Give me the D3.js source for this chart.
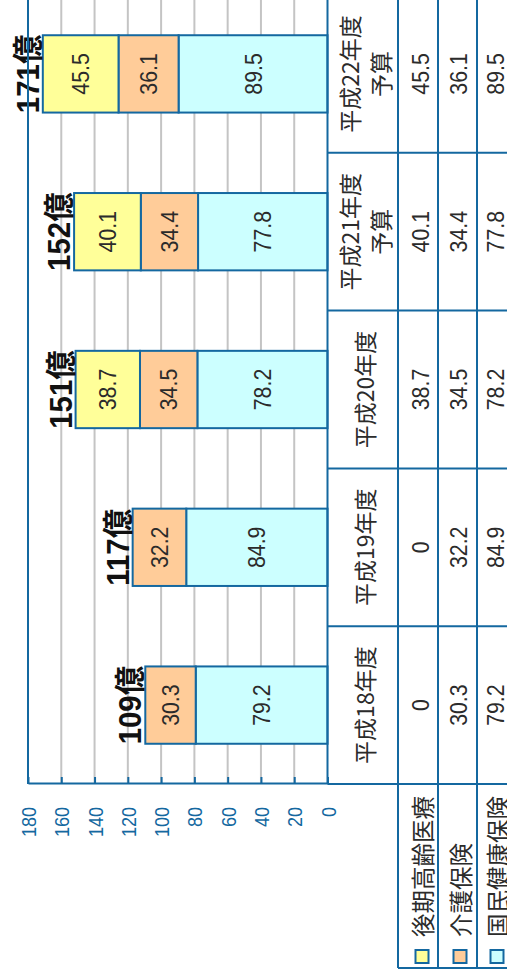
<!DOCTYPE html>
<html>
<head>
<meta charset="utf-8">
<script src="https://cdn.jsdelivr.net/npm/d3@7"></script>
<style>
    body { margin: 0; background: #fff; }
    svg { display: block; }
</style>
</head>
<body>
<div id="chart"></div>
<script>
// --- data ---
const categories = ['平成18年度', '平成19年度', '平成20年度', '平成21年度予算', '平成22年度予算'];
const categoryLines = [['平成18年度'], ['平成19年度'], ['平成20年度'], ['平成21年度', '予算'], ['平成22年度', '予算']];
const stackKeys = ['国民健康保険', '介護保険', '後期高齢医療']; // bottom to top
const tableRows = ['後期高齢医療', '介護保険', '国民健康保険'];
const kokiKorei = [0, 0, 38.7, 40.1, 45.5];
const kaigo = [30.3, 32.2, 34.5, 34.4, 36.1];
const kokuho = [79.2, 84.9, 78.2, 77.8, 89.5];
const valueTicks = [0, 20, 40, 60, 80, 100, 120, 140, 160, 180];
const unit = '億';

const values = { '後期高齢医療': kokiKorei, '介護保険': kaigo, '国民健康保険': kokuho };
const colors = { '後期高齢医療': '#ffff99', '介護保険': '#ffcc99', '国民健康保険': '#ccffff' };

// chart is drawn unrotated (W x H) and turned -90deg into the page
const W = 979, H = 507;
const blue = '#1468a0';
const grid = '#c4c4c4';
const ink = '#2b2b2b';
const latin = '"Liberation Sans", Arial, "Noto Sans CJK JP", sans-serif';
const cjk = '"Noto Sans CJK JP", "Noto Sans CJK SC", sans-serif';
const numSize = 24.5, numScale = 0.87;

const svg = d3.select('#chart').append('svg')
    .attr('width', H)
    .attr('height', W);

const g = svg.append('g')
    .attr('transform', `translate(0,${W}) rotate(-90)`);

const x = d3.scaleBand().domain(categories).range([195, 984]);
const y = d3.scaleLinear().domain([0, 180]).range([327.5, 28]);

// gridlines
g.append('g')
    .selectAll('line')
    .data(valueTicks.filter(t => t > 0 && t < 180))
    .enter().append('line')
    .attr('x1', 195).attr('x2', 984)
    .attr('y1', d => y(d)).attr('y2', d => y(d))
    .attr('stroke', grid)
    .attr('stroke-width', 2);

// bars
const rows = categories.map((c, i) => {
    const r = { cat: c };
    stackKeys.forEach(k => { r[k] = values[k][i]; });
    return r;
});
const stacked = d3.stack().keys(stackKeys)(rows);
const barW = x.bandwidth() * 0.49;

const layer = g.append('g')
    .selectAll('g')
    .data(stacked)
    .enter().append('g')
    .attr('fill', d => colors[d.key]);

const seg = layer.selectAll('g')
    .data(d => d.filter(s => s[1] - s[0] > 0))
    .enter().append('g');

seg.append('rect')
    .attr('x', d => x(d.data.cat) + (x.bandwidth() - barW) / 2)
    .attr('y', d => y(d[1]))
    .attr('width', barW)
    .attr('height', d => y(d[0]) - y(d[1]))
    .attr('stroke', blue)
    .attr('stroke-width', 2);

seg.append('text')
    .attr('transform', d => `translate(${x(d.data.cat) + x.bandwidth() / 2},${(y(d[0]) + y(d[1])) / 2}) scale(${numScale},1)`)
    .attr('text-anchor', 'middle')
    .attr('dominant-baseline', 'central')
    .attr('font-family', latin)
    .attr('font-size', numSize)
    .attr('fill', ink)
    .text(d => String(+(d[1] - d[0]).toFixed(1)));

// totals
g.append('g')
    .selectAll('text')
    .data(rows)
    .enter().append('text')
    .attr('transform', d => {
        const total = d3.sum(stackKeys, k => d[k]);
        return `translate(${x(d.cat) + x.bandwidth() / 2},${y(total) - 4}) scale(0.95,1)`;
    })
    .attr('text-anchor', 'middle')
    .attr('font-family', latin)
    .attr('font-weight', 'bold')
    .attr('font-size', 31)
    .attr('fill', '#111')
    .text(d => Math.floor(d3.sum(stackKeys, k => d[k])) + unit);

// value axis
const sx = 0.86;
const axis = g.append('g')
    .attr('transform', 'translate(195,0)')
    .call(d3.axisLeft(y).tickValues(valueTicks).tickSize(-7).tickSizeOuter(0).tickPadding(23 / sx));
axis.select('.domain').attr('stroke', blue).attr('stroke-width', 2);
axis.selectAll('.tick line').attr('stroke', blue).attr('stroke-width', 2);
axis.selectAll('.tick text')
    .attr('transform', `scale(${sx},1)`)
    .attr('dy', null)
    .attr('dominant-baseline', 'central')
    .attr('font-family', latin)
    .attr('font-size', 21)
    .attr('fill', blue);

// plot top border
g.append('line')
    .attr('x1', 195).attr('x2', 984)
    .attr('y1', y(180)).attr('y2', y(180))
    .attr('stroke', blue).attr('stroke-width', 2);

// data table
const rowEdges = [y(0), 398, 438, 477, 517];
const table = g.append('g');

table.append('line')
    .attr('x1', 195).attr('x2', 984)
    .attr('y1', rowEdges[0]).attr('y2', rowEdges[0])
    .attr('stroke', blue).attr('stroke-width', 2);

table.selectAll('line.row')
    .data(rowEdges.slice(1))
    .enter().append('line')
    .attr('class', 'row')
    .attr('x1', 11).attr('x2', 984)
    .attr('y1', d => d).attr('y2', d => d)
    .attr('stroke', blue).attr('stroke-width', 2);

table.selectAll('line.col')
    .data(categories.map(c => x(c)).concat([x(categories[categories.length - 1]) + x.bandwidth()]))
    .enter().append('line')
    .attr('class', 'col')
    .attr('x1', d => d).attr('x2', d => d)
    .attr('y1', y(0)).attr('y2', rowEdges[4])
    .attr('stroke', blue).attr('stroke-width', 2);

table.append('line')
    .attr('x1', 11).attr('x2', 11)
    .attr('y1', rowEdges[1]).attr('y2', rowEdges[4])
    .attr('stroke', blue).attr('stroke-width', 2);

// header labels
const head = table.selectAll('g.head')
    .data(categories)
    .enter().append('g')
    .attr('class', 'head');

head.selectAll('text')
    .data((c, i) => categoryLines[i].map((t, j, a) => ({ c, t, j, n: a.length })))
    .enter().append('text')
    .attr('x', d => x(d.c) + x.bandwidth() / 2)
    .attr('y', d => d.n === 1 ? 364 : (d.j === 0 ? 349 : 380))
    .attr('text-anchor', 'middle')
    .attr('dominant-baseline', 'central')
    .attr('font-family', cjk)
    .attr('font-size', 23)
    .attr('fill', ink)
    .text(d => d.t);

// table rows
const rowCenters = [420, 458, 495];
tableRows.forEach((name, r) => {
    const cy = rowCenters[r];

    table.append('rect')
        .attr('x', 16).attr('y', cy - 6.5 + 2)
        .attr('width', 13).attr('height', 13)
        .attr('fill', colors[name])
        .attr('stroke', blue).attr('stroke-width', 2);

    table.append('text')
        .attr('x', 42).attr('y', cy + 2)
        .attr('dominant-baseline', 'central')
        .attr('font-family', cjk)
        .attr('font-size', 23.5)
        .attr('fill', ink)
        .text(name);

    table.append('g')
        .selectAll('text')
        .data(categories)
        .enter().append('text')
        .attr('transform', c => `translate(${x(c) + x.bandwidth() / 2},${cy}) scale(${numScale},1)`)
        .attr('text-anchor', 'middle')
        .attr('dominant-baseline', 'central')
        .attr('font-family', latin)
        .attr('font-size', numSize)
        .attr('fill', ink)
        .text((c, i) => String(values[name][i]));
});
</script>
</body>
</html>
